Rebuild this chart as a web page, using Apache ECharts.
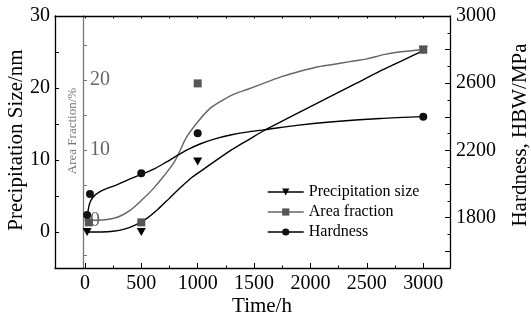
<!DOCTYPE html>
<html><head><meta charset="utf-8">
<script src="https://cdn.jsdelivr.net/npm/echarts@6/dist/echarts.min.js"></script>
<style>html,body{margin:0;padding:0;background:#fff}#c{width:531px;height:320px}</style>
</head><body><div id="c"></div>
<script>
// ---- data ----
const xMajorTicks = [0, 500, 1000, 1500, 2000, 2500, 3000];
const xMinorTicks = [250, 750, 1250, 1750, 2250, 2750];
const leftTicks = [-5, 0, 5, 10, 15, 20, 25, 30];
const leftLabels = [0, 10, 20, 30];
const rightMajorTicks = [1600, 1800, 2000, 2200, 2400, 2600, 2800, 3000];
const rightMinorTicks = [1700, 1900, 2100, 2300, 2500, 2700, 2900];
const rightLabels = [1800, 2200, 2600, 3000];
const areaTicks = [-5, 0, 5, 10, 15, 20, 25];
const areaLabels = [0, 10, 20];

const sizePoints = [[20, 0], [500, 0], [1000, 9.8], [3000, 25.3]];
const areaPoints = [[35, -0.3], [500, -0.3], [1000, 19.5], [3000, 24.3]];
const hardPoints = [[20, 1815], [45, 1940], [500, 2064], [1000, 2302], [3000, 2401]];

const sizeFit = [[20,0],[150,0],[250,0.1],[350,0.4],[450,1.0],[550,1.9],[650,3.2],[750,4.7],[850,6.2],[950,7.6],[1050,8.7],[1150,9.8],[1300,11.4],[1450,12.8],[1600,14.2],[1800,15.8],[2000,17.4],[2200,19.0],[2400,20.6],[2600,22.2],[2800,23.7],[3000,25.2]];
const areaFit = [[20,0],[100,0],[200,0.1],[300,0.5],[400,1.4],[500,2.8],[600,4.4],[700,6.3],[800,8.5],[900,11.8],[1000,14.0],[1100,15.8],[1200,16.9],[1300,17.8],[1450,18.7],[1600,19.6],[1750,20.5],[1900,21.2],[2050,21.8],[2200,22.2],[2350,22.6],[2500,23.0],[2650,23.6],[2800,24.0],[3000,24.3]];
const hardFit = [[20,1800],[40,1880],[70,1920],[134,1955],[282,1995],[400,2030],[518,2062],[620,2092],[720,2130],[820,2170],[920,2207],[1020,2238],[1138,2266],[1300,2293],[1434,2309],[1597,2323],[1878,2349],[2173,2369],[2616,2390],[3000,2401]];

const seriesNames = ['Precipitation size', 'Area fraction', 'Hardness'];
// ---- chart ----
const FONT = 'Liberation Serif';
const fmt = v => String(v);
const chart = echarts.init(document.getElementById('c'), null, {renderer: 'canvas'});
const X = {min: -265, max: 3237};
const axLine = {show: true, onZero: false, lineStyle: {color: '#000', width: 1.3}};
const noLine = {show: false, onZero: false};
const option = {
  animation: false,
  backgroundColor: '#fff',
  grid: {left: 55, right: 81, top: 16, bottom: 52, containLabel: false},
  xAxis: [
    {type: 'value', position: 'bottom', min: X.min, max: X.max, axisLine: axLine, splitLine: {show: false},
     axisTick: {inside: true, length: 5, customValues: xMajorTicks, lineStyle: {color: '#000'}},
     axisLabel: {customValues: xMajorTicks, formatter: fmt, margin: 6, fontSize: 20, color: '#000', fontFamily: FONT}},
    {type: 'value', position: 'bottom', min: X.min, max: X.max, axisLine: noLine, splitLine: {show: false},
     axisTick: {inside: true, length: 2.5, customValues: xMinorTicks, lineStyle: {color: '#000'}},
     axisLabel: {show: false}},
    {type: 'value', position: 'top', min: X.min, max: X.max, axisLine: axLine, splitLine: {show: false},
     axisTick: {inside: true, length: 2.5, customValues: xMajorTicks.concat(xMinorTicks), lineStyle: {color: '#000'}},
     axisLabel: {show: false}}
  ],
  yAxis: [
    {type: 'value', position: 'left', min: -5, max: 30, axisLine: axLine, splitLine: {show: false},
     axisTick: {inside: true, length: 4, customValues: leftTicks, lineStyle: {color: '#000'}},
     axisLabel: {customValues: leftLabels, formatter: fmt, margin: 5, fontSize: 20, color: '#000', fontFamily: FONT}},
    {type: 'value', position: 'right', min: 1500, max: 3000, axisLine: axLine, splitLine: {show: false},
     axisTick: {inside: true, length: 5, customValues: rightMajorTicks, lineStyle: {color: '#000'}},
     axisLabel: {customValues: rightLabels, formatter: fmt, margin: 6, fontSize: 20, color: '#000', fontFamily: FONT}},
    {type: 'value', position: 'right', min: 1500, max: 3000, axisLine: noLine, splitLine: {show: false},
     axisTick: {inside: true, length: 2.5, customValues: rightMinorTicks, lineStyle: {color: '#000'}},
     axisLabel: {show: false}},
    {type: 'value', position: 'left', offset: -28, min: -6.8, max: 29.1,
     axisLine: {show: true, onZero: false, lineStyle: {color: '#777', width: 1.3}}, splitLine: {show: false},
     axisTick: {inside: true, length: 4, customValues: areaTicks, lineStyle: {color: '#777'}},
     axisLabel: {inside: true, customValues: areaLabels, formatter: fmt, margin: 7, fontSize: 20, color: '#666', fontFamily: FONT}}
  ],
  legend: {
    left: 262, top: 179, orient: 'vertical', itemWidth: 36, itemHeight: 9, itemGap: 4,
    textStyle: {fontSize: 16, color: '#000', fontFamily: FONT, lineHeight: 16},
    data: [
      {name: seriesNames[0], lineStyle: {width: 1.5, color: '#000', opacity: 1}},
      {name: seriesNames[1], lineStyle: {width: 1.5, color: '#666', opacity: 1}},
      {name: seriesNames[2], lineStyle: {width: 1.5, color: '#000', opacity: 1}}
    ]
  },
  graphic: [
    {type: 'text', x: 16, y: 140, rotation: Math.PI / 2,
     style: {text: 'Precipitation Size/nm', font: '21px Liberation Serif', fill: '#000', align: 'center', verticalAlign: 'middle'}},
    {type: 'text', x: 520, y: 135, rotation: Math.PI / 2,
     style: {text: 'Hardness, HBW/MPa', font: '21px Liberation Serif', fill: '#000', align: 'center', verticalAlign: 'middle'}},
    {type: 'text', x: 262, y: 306,
     style: {text: 'Time/h', font: '21px Liberation Serif', fill: '#000', align: 'center', verticalAlign: 'middle'}},
    {type: 'text', x: 73, y: 131, rotation: Math.PI / 2,
     style: {text: 'Area Fraction/%', font: '13px Liberation Serif', fill: '#777', align: 'center', verticalAlign: 'middle'}}
  ],
  series: [
    {name: 'sizeFit', type: 'line', xAxisIndex: 0, yAxisIndex: 0, data: sizeFit, smooth: 0.3, showSymbol: false,
     lineStyle: {color: '#000', width: 1.4}, silent: true, z: 2},
    {name: 'areaFit', type: 'line', xAxisIndex: 0, yAxisIndex: 3, data: areaFit, smooth: 0.3, showSymbol: false,
     lineStyle: {color: '#666', width: 1.4}, silent: true, z: 2},
    {name: 'hardFit', type: 'line', xAxisIndex: 0, yAxisIndex: 1, data: hardFit, smooth: 0.3, showSymbol: false,
     lineStyle: {color: '#000', width: 1.4}, silent: true, z: 2},
    {name: seriesNames[0], type: 'line', xAxisIndex: 0, yAxisIndex: 0, data: sizePoints,
     symbol: 'triangle', symbolRotate: 180, symbolSize: [9, 8], showAllSymbol: true,
     itemStyle: {color: '#000'}, lineStyle: {width: 0, opacity: 0, color: '#000'}, z: 5},
    {name: seriesNames[1], type: 'line', xAxisIndex: 0, yAxisIndex: 3, data: areaPoints,
     symbol: 'rect', symbolSize: 8, showAllSymbol: true,
     itemStyle: {color: '#555'}, lineStyle: {width: 0, opacity: 0, color: '#666'}, z: 5},
    {name: seriesNames[2], type: 'line', xAxisIndex: 0, yAxisIndex: 1, data: hardPoints,
     symbol: 'circle', symbolSize: 8, showAllSymbol: true,
     itemStyle: {color: '#111'}, lineStyle: {width: 0, opacity: 0, color: '#000'}, z: 5}
  ]
};
chart.setOption(option);
</script>
</body></html>
